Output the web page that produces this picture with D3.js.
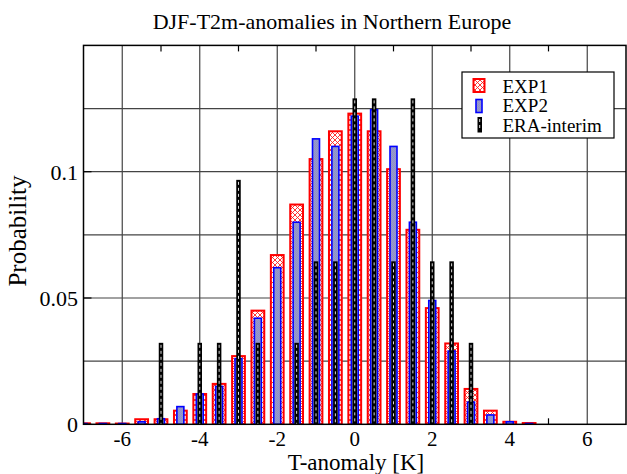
<!DOCTYPE html>
<html><head><meta charset="utf-8">
<script src="https://cdn.jsdelivr.net/npm/d3@7"></script>
<style>body{margin:0;background:#fff}svg{display:block}</style>
</head><body><svg id="c" width="627" height="474"></svg>
<script>
const bins = [-7,-6.5,-6,-5.5,-5,-4.5,-4,-3.5,-3,-2.5,-2,-1.5,-1,-0.5,0,0.5,1,1.5,2,2.5,3,3.5,4,4.5,5,5.5,6,6.5,7];
const exp1 = [0.0004,0.0004,0.0003,0.002,0.002,0.0054,0.012,0.016,0.027,0.045,0.067,0.087,0.105,0.116,0.123,0.116,0.101,0.077,0.046,0.032,0.014,0.0054,0.001,0.0005,0,0,0,0,0];
const exp2 = [0.0003,0.0003,0.0003,0.001,0.0022,0.007,0.012,0.015,0.026,0.042,0.062,0.080,0.113,0.110,0.122,0.1245,0.110,0.080,0.049,0.029,0.0088,0.0037,0.001,0.0003,0,0,0,0,0];
const eraCounts = [0,0,0,0,1,0,1,1,3,1,0,1,2,2,4,4,2,4,2,2,1,0,0,0,0,0,0,0,0];
const eraTotal = 31;
const era = eraCounts.map(c => c / eraTotal);
const xTicks = [-6,-4,-2,0,2,4,6];
const xMinor = [-5,-3,-1,1,3,5];
const yTicks = [0,0.05,0.1];
const yGrid = [0.025,0.05,0.075,0.1,0.125];
const seriesNames = ["EXP1","EXP2","ERA-interim"];

const svg = d3.select("#c");
const FONT = "Liberation Serif";
const L=83.5, R=626, T=45.4, B=424.3;
const x = d3.scaleLinear().domain([-7,7]).range([L,R]);
const y = d3.scaleLinear().domain([0,0.15]).range([B,T]);
const ux = x(1)-x(0);

const defs = svg.append("defs");
const p1 = defs.append("pattern").attr("id","hatch").attr("patternUnits","userSpaceOnUse").attr("width",5).attr("height",5);
p1.append("rect").attr("width",5).attr("height",5).attr("fill","#fff");
p1.append("path").attr("d","M0,0L5,5M5,0L0,5").attr("stroke","#ff2020").attr("stroke-width",0.9);
const p2 = defs.append("pattern").attr("id","stip").attr("patternUnits","userSpaceOnUse").attr("width",2).attr("height",2);
p2.append("rect").attr("width",2).attr("height",2).attr("fill","#8a8fe6");
p2.append("rect").attr("width",1).attr("height",1).attr("fill","#9c9cac");
p2.append("rect").attr("x",1).attr("y",1).attr("width",1).attr("height",1).attr("fill","#9c9cac");
defs.append("clipPath").attr("id","clip").append("rect").attr("x",L).attr("y",T).attr("width",R-L).attr("height",B-T);

const g = svg.append("g");
g.selectAll(".gy").data(yGrid).join("line").attr("x1",L).attr("x2",R).attr("y1",d=>y(d)).attr("y2",d=>y(d)).attr("stroke","#444").attr("stroke-width",1.2);
g.selectAll(".gx").data(xTicks).join("line").attr("y1",T).attr("y2",B).attr("x1",d=>x(d)).attr("x2",d=>x(d)).attr("stroke","#444").attr("stroke-width",1.2);
g.selectAll(".mt").data(xMinor).join("line").attr("x1",d=>x(d)).attr("x2",d=>x(d)).attr("y1",T).attr("y2",T+6).attr("stroke","#000").attr("stroke-width",1.2);
g.selectAll(".mb").data(xMinor).join("line").attr("x1",d=>x(d)).attr("x2",d=>x(d)).attr("y1",B).attr("y2",B-6).attr("stroke","#000").attr("stroke-width",1.2);

const bars = svg.append("g").attr("clip-path","url(#clip)");
const w1 = 0.33*ux, w2 = 0.18*ux, w3 = 4.5;
bars.selectAll(".e1").data(bins).join("rect")
  .attr("x",d=>x(d)-w1/2).attr("width",w1)
  .attr("y",(d,i)=>y(exp1[i])).attr("height",(d,i)=>y(0)-y(exp1[i]))
  .attr("fill","url(#hatch)").attr("stroke","#ff0000").attr("stroke-width",2);
bars.selectAll(".e2").data(bins).join("rect")
  .attr("x",d=>x(d)-w2/2).attr("width",w2)
  .attr("y",(d,i)=>y(exp2[i])).attr("height",(d,i)=>y(0)-y(exp2[i]))
  .attr("fill","url(#stip)").attr("stroke","#0000ff").attr("stroke-width",1.6);
const eraIdx = bins.map((d,i)=>i).filter(i=>era[i]>0);
bars.selectAll(".e3").data(eraIdx).join("rect")
  .attr("x",i=>x(bins[i])-w3/2).attr("width",w3)
  .attr("y",i=>y(era[i])).attr("height",i=>y(0)-y(era[i]))
  .attr("fill","#000");
bars.selectAll(".e3d").data(eraIdx).join("line")
  .attr("x1",i=>x(bins[i])).attr("x2",i=>x(bins[i]))
  .attr("y1",i=>y(era[i])+2).attr("y2",B)
  .attr("stroke","#ddd").attr("stroke-width",1).attr("stroke-dasharray","3,3");

svg.append("rect").attr("x",L).attr("y",T).attr("width",R-L).attr("height",B-T).attr("fill","none").attr("stroke","#000").attr("stroke-width",1.5);

const txt = (sel) => sel.attr("font-family",FONT).attr("fill","#000");
txt(svg.selectAll(".xl").data(xTicks).join("text").attr("x",d=>x(d)).attr("y",446).attr("text-anchor","middle").attr("font-size",21).text(d=>d<0?"-"+Math.abs(d):d));
txt(svg.selectAll(".yl").data(yTicks).join("text").attr("x",78).attr("y",d=>y(d)+8).attr("text-anchor","end").attr("font-size",22).text(d=>d===0?"0":String(d)));
svg.selectAll(".yt").data(yTicks).join("line").attr("x1",L).attr("x2",L+8).attr("y1",d=>y(d)).attr("y2",d=>y(d)).attr("stroke","#000").attr("stroke-width",1.2);

txt(svg.append("text").attr("x",332).attr("y",29).attr("text-anchor","middle").attr("font-size",22).text("DJF-T2m-anomalies in Northern Europe"));
txt(svg.append("text").attr("x",356).attr("y",470).attr("text-anchor","middle").attr("font-size",23).text("T-anomaly [K]"));
txt(svg.append("text").attr("transform","translate(26,231) rotate(-90)").attr("text-anchor","middle").attr("font-size",25).text("Probability"));

const lg = svg.append("g");
lg.append("rect").attr("x",462).attr("y",72).attr("width",152).attr("height",66).attr("fill","#fff").attr("stroke","#000").attr("stroke-width",1.2);
lg.append("rect").attr("x",473.5).attr("y",79).attr("width",11).attr("height",13).attr("fill","url(#hatch)").attr("stroke","#ff0000").attr("stroke-width",2);
lg.append("rect").attr("x",476).attr("y",99.5).attr("width",6).attr("height",13).attr("fill","url(#stip)").attr("stroke","#0000ff").attr("stroke-width",1.6);
lg.append("rect").attr("x",477.5).attr("y",117).attr("width",4.5).attr("height",15.5).attr("fill","#000");
lg.append("line").attr("x1",479.7).attr("x2",479.7).attr("y1",119).attr("y2",131).attr("stroke","#ddd").attr("stroke-width",1).attr("stroke-dasharray","3,3");
txt(lg.selectAll(".lt").data(seriesNames).join("text").attr("x",502.5).attr("y",(d,i)=>92.5+i*19.5).attr("font-size",19).text(d=>d));
</script></body></html>
